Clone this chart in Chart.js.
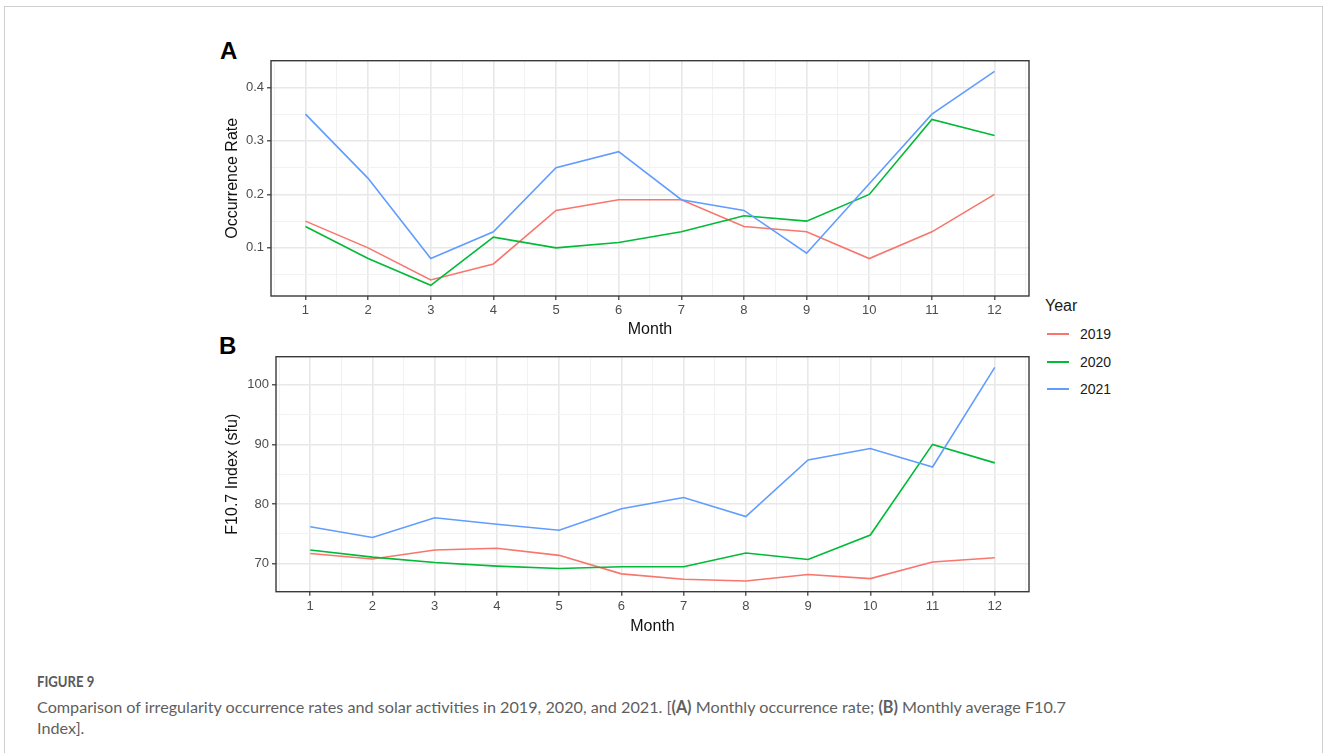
<!DOCTYPE html>
<html>
<head>
<meta charset="utf-8">
<script src="https://cdn.jsdelivr.net/npm/chart.js@4.4.1/dist/chart.umd.min.js"></script>
<style>
  html, body { margin: 0; padding: 0; background: #fff; }
  body { width: 1328px; height: 753px; position: relative; overflow: hidden;
         font-family: "Liberation Sans", Arial, sans-serif; }
  #frame { position: absolute; left: 4px; top: 6px; width: 1317px; height: 800px;
           border: 1px solid #cfcfcf; border-bottom: none; }
  .panel { position: absolute; left: 218px; }
  .tag { position: absolute; font: bold 24px "Liberation Sans", Arial, sans-serif;
         line-height: 24px; color: #000; }
  #legend { position: absolute; left: 1045px; top: 296px; color: #1a1a1a; }
  #legend .ttl { position: absolute; left: 0; top: 0; font-size: 16px; line-height: 20px; white-space: nowrap; }
  #legend .item { position: absolute; left: 0; height: 20px; width: 90px; }
  #legend .swatch { position: absolute; left: 2px; top: 9px; width: 22px; height: 2px; }
  #legend .lab { position: absolute; left: 35px; top: 0; font-size: 14px; line-height: 20px; }
  .cap { position: absolute; left: 37px; color: #5f5f5f; font-family: Lato, "Open Sans", sans-serif;
         white-space: nowrap; line-height: 20px; }
  #capHead { font-weight: bold; color: #5a5a5a; transform: scaleX(0.82); transform-origin: 0 50%; }
</style>
</head>
<body>
<div id="frame"></div>

<div class="tag" style="left:220px; top:38.6px;">A</div>
<div class="tag" style="left:219px; top:333.6px;">B</div>

<div class="panel" style="top:30px;"><canvas id="chartA" width="822" height="320"></canvas></div>
<div class="panel" style="top:330px;"><canvas id="chartB" width="822" height="310"></canvas></div>

<div id="legend"></div>

<div id="capHead" class="cap" style="top:671px; font-size:16px;">FIGURE 9</div>
<div id="capLine1" class="cap" style="top:697px;">Comparison of irregularity occurrence rates and solar activities in 2019, 2020, and 2021. [<b>(A)</b> Monthly occurrence rate; <b>(B)</b> Monthly average F10.7</div>
<div id="capLine2" class="cap" style="top:718px;">Index].</div>

<script>
// Months on the x axis
const months = [1, 2, 3, 4, 5, 6, 7, 8, 9, 10, 11, 12];

// Series names and colours (one line per year)
const years = ['2019', '2020', '2021'];
const yearColors = ['#F8766D', '#00BA38', '#619CFF'];

// Panel A: monthly irregularity occurrence rate
const rate2019 = [0.15, 0.10, 0.04, 0.07, 0.17, 0.19, 0.19, 0.14, 0.13, 0.08, 0.13, 0.20];
const rate2020 = [0.14, 0.08, 0.03, 0.12, 0.10, 0.11, 0.13, 0.16, 0.15, 0.20, 0.34, 0.31];
const rate2021 = [0.35, 0.23, 0.08, 0.13, 0.25, 0.28, 0.19, 0.17, 0.09, 0.22, 0.35, 0.43];

// Panel B: monthly average F10.7 index (sfu)
const f107_2019 = [71.7, 70.8, 72.3, 72.6, 71.4, 68.3, 67.4, 67.1, 68.2, 67.5, 70.3, 71.0];
const f107_2020 = [72.3, 71.1, 70.2, 69.6, 69.2, 69.5, 69.5, 71.8, 70.7, 74.8, 90.0, 86.9];
const f107_2021 = [76.2, 74.4, 77.7, 76.6, 75.6, 79.2, 81.1, 77.9, 87.4, 89.3, 86.2, 102.9];

// Labelled ticks
const monthTicks = months;
const rateTicks = [0.1, 0.2, 0.3, 0.4];
const f107Ticks = [70, 80, 90, 100];

const TICK_FONT = { family: '"Liberation Sans", Arial, sans-serif', size: 13 };
const TITLE_FONT = { family: '"Liberation Sans", Arial, sans-serif', size: 16 };

// Range padded by 5% of the data span on each side
function expandRange(values) {
  const lo = Math.min(...values), hi = Math.max(...values);
  const pad = (hi - lo) * 0.05;
  return [lo - pad, hi + pad];
}

// Major ticks plus the half-step minor positions inside [min, max]
function tickSet(major, min, max) {
  const step = major[1] - major[0];
  const out = major.map(v => ({ value: v, isMajor: true }));
  for (let v = major[0] - step / 2; v <= major[major.length - 1] + step / 2 + 1e-9; v += step) {
    const r = Math.round(v * 1e6) / 1e6;
    if (r > min + 1e-6 && r < max - 1e-6) out.push({ value: r, isMajor: false });
  }
  return out.sort((a, b) => a.value - b.value);
}

// Full rectangle round the plotting area
const panelBorder = {
  id: 'panelBorder',
  afterDraw(chart) {
    const { ctx, chartArea: a } = chart;
    ctx.save();
    ctx.strokeStyle = '#3a3a3a';
    ctx.lineWidth = 1.4;
    ctx.strokeRect(a.left, a.top, a.right - a.left, a.bottom - a.top);
    ctx.restore();
  }
};

function gridOpts() {
  return {
    color: c => (c.tick && c.tick.isMajor) ? '#E8E8E8' : '#F2F2F2',
    lineWidth: c => (c.tick && c.tick.isMajor) ? 1.6 : 1.1,
    tickColor: c => (c.tick && c.tick.isMajor) ? '#333333' : 'rgba(0,0,0,0)',
    tickWidth: 1.2,
    tickLength: 4,
    drawTicks: true
  };
}

function makePanel(canvasId, series, yTicks, yFmt, cfg) {
  const [ymin, ymax] = expandRange(series.flat());
  const [xmin, xmax] = expandRange(months);
  const datasets = series.map((vals, i) => ({
    label: years[i],
    data: months.map((m, k) => ({ x: m, y: vals[k] })),
    borderColor: yearColors[i],
    backgroundColor: yearColors[i],
    borderWidth: 1.6,
    pointRadius: 0,
    tension: 0,
    order: series.length - i
  }));
  return new Chart(document.getElementById(canvasId), {
    type: 'line',
    data: { datasets },
    plugins: [panelBorder],
    options: {
      responsive: false,
      animation: false,
      devicePixelRatio: 1,
      layout: { padding: { left: 0, right: 11, top: cfg.top, bottom: 0 } },
      plugins: { legend: { display: false }, tooltip: { enabled: false } },
      scales: {
        x: {
          type: 'linear', min: xmin, max: xmax,
          afterBuildTicks: s => { s.ticks = tickSet(monthTicks, xmin, xmax); },
          afterFit: s => { s.height = cfg.xHeight; },
          ticks: {
            autoSkip: false, maxRotation: 0, minRotation: 0, padding: 3,
            color: '#4D4D4D', font: TICK_FONT,
            callback: (v, i, t) => t[i].isMajor ? String(v) : ''
          },
          grid: gridOpts(),
          border: { display: false },
          title: { display: true, text: 'Month', color: '#111', font: TITLE_FONT,
                   padding: { top: 0, bottom: cfg.xTitlePad } }
        },
        y: {
          type: 'linear', min: ymin, max: ymax,
          afterBuildTicks: s => { s.ticks = tickSet(yTicks, ymin, ymax); },
          afterFit: s => { s.width = cfg.yWidth; },
          ticks: {
            autoSkip: false, padding: 3,
            color: '#4D4D4D', font: TICK_FONT,
            callback: (v, i, t) => t[i].isMajor ? yFmt(v) : ''
          },
          grid: gridOpts(),
          border: { display: false },
          title: { display: true, text: cfg.yTitle, color: '#111', font: TITLE_FONT,
                   padding: { top: 4.5, bottom: 0 } }
        }
      }
    }
  });
}

makePanel('chartA', [rate2019, rate2020, rate2021], rateTicks, v => v.toFixed(1),
  { top: 30.7, xHeight: 54, yWidth: 53, xTitlePad: 10.4, yTitle: 'Occurrence Rate' });

makePanel('chartB', [f107_2019, f107_2020, f107_2021], f107Ticks, v => String(v),
  { top: 26.7, xHeight: 48.3, yWidth: 58, xTitlePad: 3.6, yTitle: 'F10.7 Index (sfu)' });

// Legend: title and one line sample per year
const legend = document.getElementById('legend');
const ttl = document.createElement('div');
ttl.className = 'ttl';
ttl.textContent = 'Year';
legend.appendChild(ttl);
years.forEach((y, i) => {
  const item = document.createElement('div');
  item.className = 'item';
  item.style.top = (28 + i * 27.5) + 'px';
  const sw = document.createElement('div');
  sw.className = 'swatch';
  sw.style.background = yearColors[i];
  const lab = document.createElement('div');
  lab.className = 'lab';
  lab.textContent = y;
  item.appendChild(sw);
  item.appendChild(lab);
  legend.appendChild(item);
});

// Caption: size the long line to its column width
(function () {
  const l1 = document.getElementById('capLine1');
  const l2 = document.getElementById('capLine2');
  l1.style.fontSize = '15px';
  const w = l1.getBoundingClientRect().width;
  const fs = 15 * 1030 / w;
  l1.style.fontSize = fs + 'px';
  l2.style.fontSize = fs + 'px';
})();
</script>
</body>
</html>
